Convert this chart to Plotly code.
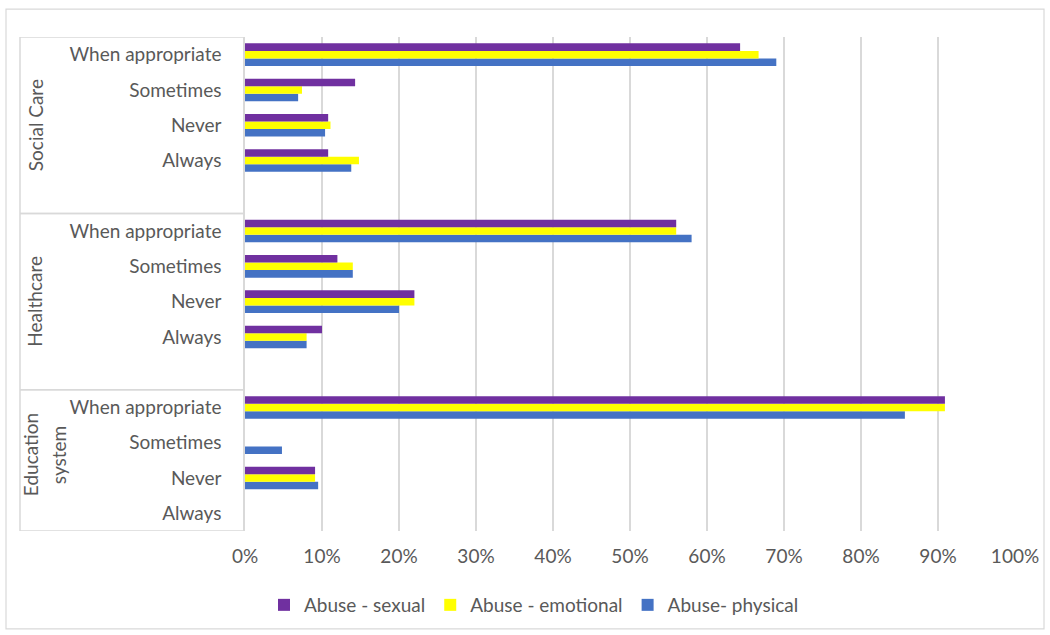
import plotly.graph_objects as go

# ---- data ----
groups = ["Education system", "Healthcare", "Social Care"]
group_label_lines = [["Education", "system"], ["Healthcare"], ["Social Care"]]
responses = ["Always", "Never", "Sometimes", "When appropriate"]

# values per group (bottom group first), per response in order of `responses`
sexual = {
    "Education system": [0.0, 9.1, 0.0, 90.9],
    "Healthcare": [10.0, 22.0, 12.0, 56.0],
    "Social Care": [10.8, 10.8, 14.3, 64.3],
}
emotional = {
    "Education system": [0.0, 9.1, 0.0, 90.9],
    "Healthcare": [8.0, 22.0, 14.0, 56.0],
    "Social Care": [14.8, 11.1, 7.4, 66.7],
}
physical = {
    "Education system": [0.0, 9.5, 4.8, 85.7],
    "Healthcare": [8.0, 20.0, 14.0, 58.0],
    "Social Care": [13.8, 10.4, 6.9, 69.0],
}
x_ticks = [0, 10, 20, 30, 40, 50, 60, 70, 80, 90, 100]

series = [
    ("Abuse- physical", physical, "#4472C4"),
    ("Abuse - emotional", emotional, "#FFFF00"),
    ("Abuse - sexual", sexual, "#7030A0"),
]

# category slot positions: each group has its responses plus a blank spacer row
# (except the bottom group), bottom to top
positions = {}
group_bounds = []
pos = 0
for gi, g in enumerate(groups):
    start = pos - 0.5
    if gi > 0:
        pos += 1  # blank spacer row
    for r in responses:
        positions[(g, r)] = pos
        pos += 1
    group_bounds.append((start, pos - 0.5))

TEXT = "#595959"
FONT = "Lato"
FS = 19

fig = go.Figure()
for name, data, color in series:
    ys, xs = [], []
    for g in groups:
        for r, v in zip(responses, data[g]):
            ys.append(positions[(g, r)])
            xs.append(v / 100.0)
    fig.add_trace(go.Bar(
        name=name, x=xs, y=ys, orientation="h",
        marker=dict(color=color, line=dict(width=0)),
    ))

tickvals = [positions[(g, r)] for g in groups for r in responses]
ticktext = [r for g in groups for r in responses]

# plot area pixel geometry
W, H = 1050, 635
L, R, T, B = 245, 1015, 37, 532
pw = R - L

def px_x(px):
    return (px - L) / pw

shapes = []
# outer chart border
shapes.append(dict(type="rect", xref="paper", yref="paper",
                   x0=px_x(6), x1=px_x(1044),
                   y0=(B - 630) / (B - T), y1=(B - 9) / (B - T),
                   line=dict(color="#D9D9D9", width=1.2), layer="below"))
# multi-level category box lines
for (lo, hi) in group_bounds:
    for yv in (lo, hi):
        shapes.append(dict(type="line", xref="paper", yref="y",
                           x0=px_x(20), x1=0, y0=yv, y1=yv,
                           line=dict(color="#D9D9D9", width=1.5)))
shapes.append(dict(type="line", xref="paper", yref="y",
                   x0=px_x(20), x1=px_x(20),
                   y0=group_bounds[0][0], y1=group_bounds[-1][1],
                   line=dict(color="#D9D9D9", width=1.5)))

annotations = []
for (lo, hi), lines in zip(group_bounds, group_label_lines):
    n = len(lines)
    xs_px = [35] if n == 1 else [30 + 28 * i for i in range(n)]
    for line_txt, xpx in zip(lines, xs_px):
        annotations.append(dict(
            text=line_txt, xref="paper", yref="y", x=px_x(xpx),
            y=(lo + hi) / 2 + (0.15 if n > 1 else 0),
            textangle=-90, showarrow=False, xanchor="center", yanchor="middle",
            font=dict(family=FONT, size=FS, color=TEXT), align="center"))

fig.update_layout(
    width=W, height=H,
    margin=dict(l=L, r=W - R, t=T, b=H - B),
    paper_bgcolor="white", plot_bgcolor="white",
    barmode="group", bargap=0.36, bargroupgap=0,
    font=dict(family=FONT, size=FS, color=TEXT),
    xaxis=dict(
        range=[0, 1], tickvals=[t / 100 for t in x_ticks],
        ticktext=[f"{t}%" for t in x_ticks],
        showgrid=True, gridcolor="#D9D9D9", gridwidth=1.5,
        zeroline=False, showline=False, ticks="",
        ticklabelstandoff=12,
        tickfont=dict(family=FONT, size=FS, color=TEXT),
    ),
    yaxis=dict(
        range=[group_bounds[0][0], group_bounds[-1][1]],
        tickvals=tickvals, ticktext=ticktext,
        showgrid=False, zeroline=False, showline=True,
        linecolor="#D9D9D9", linewidth=1.5, ticks="",
        ticklabelstandoff=18,
        tickfont=dict(family=FONT, size=FS, color=TEXT),
    ),
    legend=dict(
        orientation="h", traceorder="reversed",
        x=px_x(534), xanchor="center", y=(B - 605) / (B - T), yanchor="middle",
        font=dict(family=FONT, size=FS, color=TEXT),
        itemwidth=30, itemsizing="constant",
    ),
    showlegend=True,
    shapes=shapes, annotations=annotations,
)

fig.write_html("out.html")
